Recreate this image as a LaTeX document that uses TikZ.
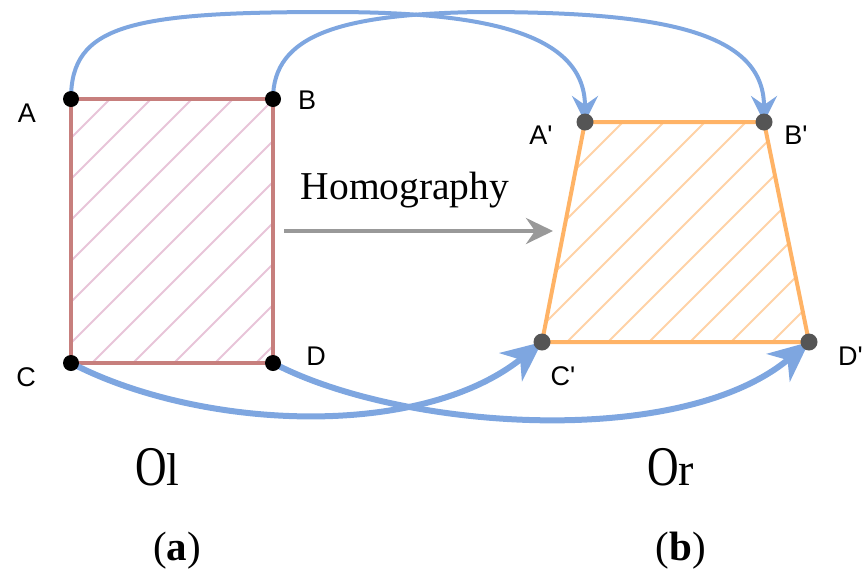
\documentclass[tikz,border=0pt]{standalone}
\usepackage{fontspec}
\setmainfont{Liberation Serif}
\newfontfamily\lblfont{Liberation Sans}
\usetikzlibrary{arrows.meta}
\definecolor{flowblue}{RGB}{126,166,224}
\definecolor{rectred}{RGB}{199,127,125}
\definecolor{hatchpink}{RGB}{232,196,216}
\definecolor{trapor}{RGB}{255,179,102}
\definecolor{hatchor}{RGB}{255,210,166}
\definecolor{dotgray}{RGB}{85,85,85}
\definecolor{arrgray}{RGB}{153,153,153}
\tikzset{
  toparrow/.style={draw=flowblue, line width=4pt, -{Stealth[length=26pt,width=26pt,inset=9pt]}},
  botarrow/.style={draw=flowblue, line width=6pt, -{Stealth[length=40pt,width=36pt,inset=12pt]}},
  ptlabel/.style={font=\lblfont\fontsize{27}{30}\selectfont, inner sep=0pt},
  hatchL/.style={draw=hatchpink, line width=2pt},
  hatchR/.style={draw=hatchor, line width=2pt},
}
\begin{document}
\begin{tikzpicture}[x=1pt, y=-1pt]
\useasboundingbox (0,0) rectangle (864,574);
% corner points
\coordinate (A) at (71,99);
\coordinate (B) at (273,99);
\coordinate (C) at (71,363);
\coordinate (D) at (273,363);
\coordinate (Ap) at (585,122);
\coordinate (Bp) at (764,122);
\coordinate (Cp) at (542,342);
\coordinate (Dp) at (809,342);
% hatching
\begin{scope}
\clip (A) -- (B) -- (D) -- (C) -- cycle;
\foreach \c in {209,250,...,619} \draw[hatchL] ({\c-400},400) -- (\c,0);
\end{scope}
\begin{scope}
\clip (Ap) -- (Bp) -- (Dp) -- (Cp) -- cycle;
\foreach \c in {704,745,...,1114} \draw[hatchR] ({\c-400},400) -- (\c,0);
\end{scope}
% outlines
\draw[rectred, line width=4pt] (A) -- (B) -- (D) -- (C) -- cycle;
\draw[trapor, line width=4pt, line join=round] (Ap) -- (Bp) -- (Dp) -- (Cp) -- cycle;
% homography arrow
\coordinate (hs) at (284,231);
\coordinate (he) at (553,231);
\draw[arrgray, line width=4pt, -{Stealth[length=27pt,width=26pt,inset=9pt]}] (hs) -- (he);
\node[font=\fontsize{39.5}{41}\selectfont, inner sep=0pt] (homo) at (405,190) {Homography};
% top curved arrows
\draw[toparrow] (A) .. controls (71,25) and (130,12) .. (330,12)
   .. controls (470,12) and (585,28) .. (Ap);
\draw[toparrow] (B) .. controls (273,35) and (340,14) .. (480,12)
   .. controls (650,12) and (764,28) .. (Bp);
% bottom curved arrows
\draw[botarrow] (C) .. controls (200,430) and (420,440) .. (Cp);
\draw[botarrow] (D) .. controls (400,430) and (680,450) .. (Dp);
% dots
\foreach \p in {A,B,C,D} \fill[black] (\p) circle (8);
\foreach \p in {Ap,Bp,Cp,Dp} \fill[dotgray] (\p) circle (8.5);
% labels
\node[ptlabel] (lA) at (27,113) {A};
\node[ptlabel] (lB) at (307,100) {B};
\node[ptlabel] (lC) at (26,377) {C};
\node[ptlabel] (lD) at (316,356) {D};
\node[ptlabel] (lAp) at (541,135) {A'};
\node[ptlabel] (lBp) at (796,135) {B'};
\node[ptlabel] (lCp) at (563,376) {C'};
\node[ptlabel, anchor=west] (lDp) at (838,356) {D'};
% object names
\node[inner sep=0pt, anchor=base west] (Ol) at (135,485)
  {\fontsize{56}{58}\selectfont\scalebox{0.78}[1]{O}\fontsize{46}{48}\selectfont l};
\node[inner sep=0pt, anchor=base west] (Or) at (647,485)
  {\fontsize{56}{58}\selectfont\scalebox{0.78}[1]{O}\fontsize{46}{48}\selectfont r};
% captions
\node[inner sep=0pt, font=\fontsize{41}{43}\selectfont] (capa) at (177,551) {(\textbf{a})};
\node[inner sep=0pt, font=\fontsize{41}{43}\selectfont] (capb) at (681,551) {(\textbf{b})};
\end{tikzpicture}
\end{document}
